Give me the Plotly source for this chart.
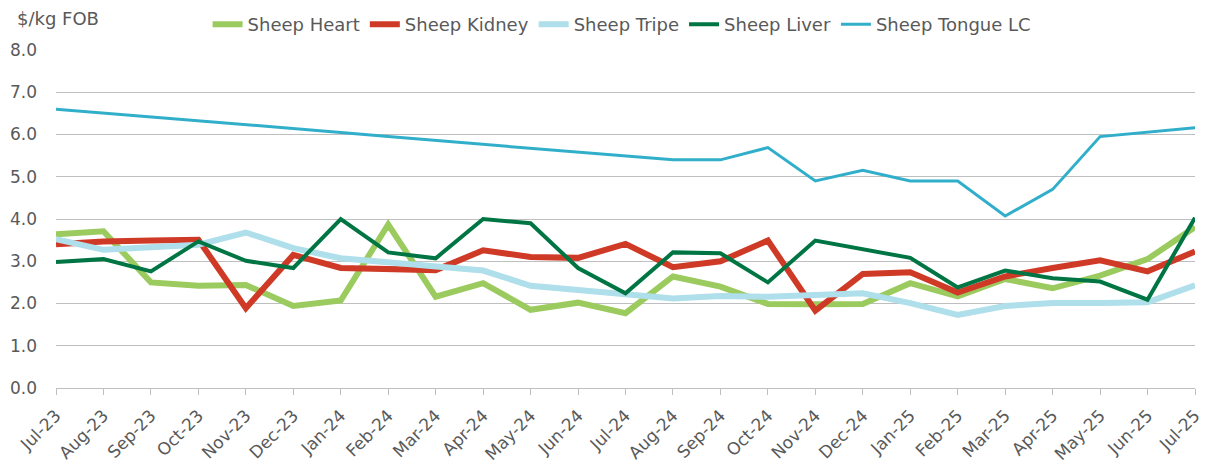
import plotly.graph_objects as go

months = ["Jul-23", "Aug-23", "Sep-23", "Oct-23", "Nov-23", "Dec-23", "Jan-24", "Feb-24",
          "Mar-24", "Apr-24", "May-24", "Jun-24", "Jul-24", "Aug-24", "Sep-24", "Oct-24",
          "Nov-24", "Dec-24", "Jan-25", "Feb-25", "Mar-25", "Apr-25", "May-25", "Jun-25", "Jul-25"]

sheep_heart = [3.64, 3.71, 2.50, 2.42, 2.44, 1.94, 2.07, 3.87, 2.16, 2.48, 1.85, 2.02, 1.77,
               2.64, 2.40, 1.99, 1.98, 1.99, 2.48, 2.17, 2.58, 2.36, 2.66, 3.05, 3.81]
sheep_kidney = [3.40, 3.47, 3.49, 3.51, 1.89, 3.15, 2.84, 2.81, 2.79, 3.26, 3.10, 3.08, 3.41,
                2.86, 3.00, 3.49, 1.83, 2.70, 2.74, 2.26, 2.64, 2.84, 3.02, 2.76, 3.23]
sheep_tripe = [3.52, 3.27, 3.33, 3.39, 3.68, 3.31, 3.07, 2.97, 2.88, 2.78, 2.42, 2.32, 2.23,
               2.12, 2.18, 2.16, 2.20, 2.24, 2.01, 1.73, 1.94, 2.01, 2.01, 2.03, 2.43]
sheep_liver = [2.98, 3.05, 2.76, 3.47, 3.01, 2.84, 4.00, 3.21, 3.07, 4.00, 3.90, 2.84, 2.24,
               3.21, 3.19, 2.50, 3.49, 3.29, 3.08, 2.38, 2.78, 2.60, 2.52, 2.09, 4.03]
sheep_tongue = [6.60, 6.51, 6.42, 6.32, 6.23, 6.14, 6.05, 5.95, 5.86, 5.77, 5.68, 5.58, 5.49,
                5.40, 5.40, 5.69, 4.90, 5.15, 4.90, 4.90, 4.07, 4.70, 5.95, 6.05, 6.16]

y_ticks = [0, 1, 2, 3, 4, 5, 6, 7, 8]
y_tick_labels = ["0.0", "1.0", "2.0", "3.0", "4.0", "5.0", "6.0", "7.0", "8.0"]

series = [
    ("Sheep Heart", sheep_heart, "#9BCB5E", 6),
    ("Sheep Kidney", sheep_kidney, "#CF3A27", 6),
    ("Sheep Tripe", sheep_tripe, "#AEDFEA", 6),
    ("Sheep Liver", sheep_liver, "#007544", 4),
    ("Sheep Tongue LC", sheep_tongue, "#31AFCA", 3),
]

FONT = "DejaVu Sans"
TXT = "#595959"

fig = go.Figure()
for name, vals, color, width in series:
    fig.add_trace(go.Scatter(x=list(range(len(months))), y=vals, name=name, mode="lines",
                             line=dict(color=color, width=width)))

# page body has an 8px margin, so the figure is 8px smaller and shifted
fig.update_layout(
    width=1199, height=458,
    margin=dict(l=48, r=12, t=42, b=78, autoexpand=False),
    plot_bgcolor="white", paper_bgcolor="white",
    font=dict(family=FONT, color=TXT, size=18),
    showlegend=True,
    legend=dict(orientation="h", x=0.497, xanchor="center", y=1.075, yanchor="middle",
                font=dict(size=18, color=TXT), itemwidth=30, tracegroupgap=0,
                bgcolor="rgba(0,0,0,0)"),
    annotations=[dict(text="$/kg FOB", xref="paper", yref="paper", x=-0.036, y=1.092,
                      xanchor="left", yanchor="middle", showarrow=False,
                      font=dict(size=18, color=TXT, family=FONT))],
)
fig.update_xaxes(
    tickmode="array", tickvals=list(range(len(months))), ticktext=months,
    range=[0, len(months) - 1], tickangle=-45, tickfont=dict(size=17, color=TXT),
    showline=True, linecolor="#BFBFBF", linewidth=1, automargin=False,
    ticks="outside", ticklen=6, tickcolor="#BFBFBF", showgrid=False, zeroline=False,
    ticklabelstandoff=4,
)
fig.update_yaxes(
    range=[0, 8], tickmode="array", tickvals=y_ticks, ticktext=y_tick_labels,
    tickfont=dict(size=17, color=TXT), showgrid=True, gridcolor="#BFBFBF", gridwidth=1,
    zeroline=False, showline=False, ticks="", ticklabelstandoff=18, automargin=False,
)

fig.write_html("out.html")
